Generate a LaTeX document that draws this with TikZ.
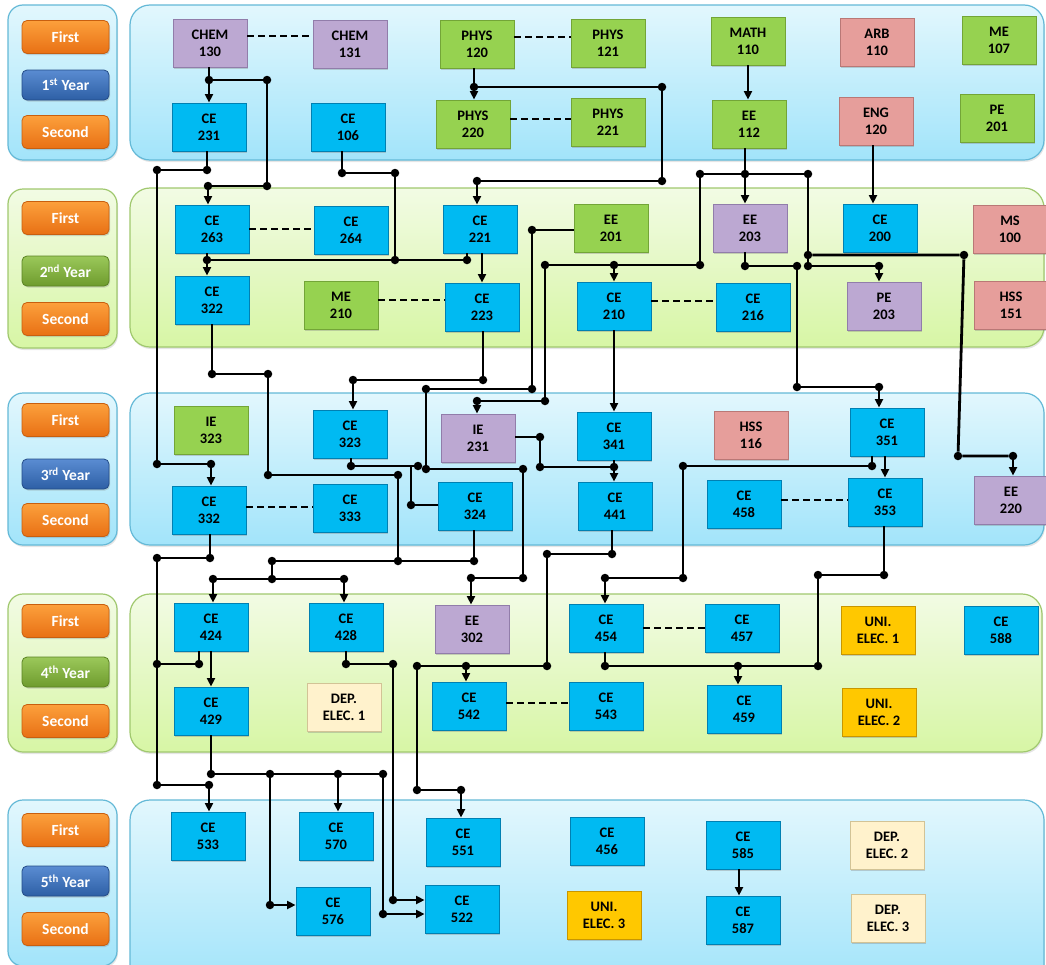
\documentclass[tikz,border=0pt]{standalone}
\usepackage{fontspec}
\setmainfont{Carlito}
\usepackage{tikz}
\usepackage{xcolor}
\usetikzlibrary{arrows.meta,shadows}

\definecolor{ceFill}{RGB}{0,186,242}
\definecolor{ceEdge}{RGB}{0,128,178}
\definecolor{sciFill}{RGB}{150,210,80}
\definecolor{sciEdge}{RGB}{115,165,55}
\definecolor{purFill}{RGB}{188,168,210}
\definecolor{purEdge}{RGB}{145,125,170}
\definecolor{humFill}{RGB}{230,158,155}
\definecolor{humEdge}{RGB}{185,120,118}
\definecolor{uniFill}{RGB}{255,200,0}
\definecolor{uniEdge}{RGB}{200,150,0}
\definecolor{depFill}{RGB}{255,242,204}
\definecolor{depEdge}{RGB}{210,195,150}
\definecolor{bandBlueTop}{RGB}{226,247,253}
\definecolor{bandBlueBot}{RGB}{162,228,250}
\definecolor{bandBlueEdge}{RGB}{100,185,215}
\definecolor{bandGreenTop}{RGB}{242,251,228}
\definecolor{bandGreenBot}{RGB}{215,246,165}
\definecolor{bandGreenEdge}{RGB}{160,200,110}
\definecolor{tagOrangeTop}{RGB}{252,160,60}
\definecolor{tagOrangeBot}{RGB}{232,112,20}
\definecolor{tagOrangeEdge}{RGB}{200,95,15}
\definecolor{tagBlueTop}{RGB}{90,140,210}
\definecolor{tagBlueBot}{RGB}{45,95,165}
\definecolor{tagBlueEdge}{RGB}{35,75,135}
\definecolor{tagGreenTop}{RGB}{155,200,90}
\definecolor{tagGreenBot}{RGB}{110,155,45}
\definecolor{tagGreenEdge}{RGB}{90,130,35}

\begin{document}
\begin{tikzpicture}[x=1pt, y=-1pt,
	course/.style={minimum width=74pt, minimum height=48pt, inner sep=0pt, align=center, line width=0.9pt, font=\bfseries\fontsize{14.5}{17}\selectfont, drop shadow={shadow xshift=1.2pt, shadow yshift=-1.5pt, opacity=0.35}},
	cebox/.style={course, fill=ceFill, draw=ceEdge},
	greenbox/.style={course, fill=sciFill, draw=sciEdge},
	purplebox/.style={course, fill=purFill, draw=purEdge},
	pinkbox/.style={course, fill=humFill, draw=humEdge},
	unibox/.style={course, fill=uniFill, draw=uniEdge},
	depbox/.style={course, fill=depFill, draw=depEdge},
	tagbase/.style={minimum width=87pt, minimum height=33pt, rounded corners=5pt, line width=0.8pt, text=white, font=\bfseries\fontsize{15.5}{18}\selectfont, drop shadow={shadow xshift=1pt, shadow yshift=-1.5pt, opacity=0.3}},
	termtag/.style={tagbase, top color=tagOrangeTop, bottom color=tagOrangeBot, draw=tagOrangeEdge},
	yeartagblue/.style={tagbase, minimum height=30pt, top color=tagBlueTop, bottom color=tagBlueBot, draw=tagBlueEdge},
	yeartaggreen/.style={tagbase, minimum height=30pt, top color=tagGreenTop, bottom color=tagGreenBot, draw=tagGreenEdge},
	blueband/.style={rounded corners=20pt, top color=bandBlueTop, bottom color=bandBlueBot, draw=bandBlueEdge, line width=1.2pt, drop shadow={shadow xshift=1pt, shadow yshift=-2pt, opacity=0.2}},
	greenband/.style={rounded corners=20pt, top color=bandGreenTop, bottom color=bandGreenBot, draw=bandGreenEdge, line width=1.2pt, drop shadow={shadow xshift=1pt, shadow yshift=-2pt, opacity=0.2}},
	jdot/.style={circle, fill=black, inner sep=0pt, minimum size=8.5pt},
	wire/.style={line width=2.8pt},
	arr/.style={wire, -{Triangle[length=8.5pt, width=8pt]}},
	pairline/.style={line width=2.8pt, dash pattern=on 7pt off 4pt}]
	\useasboundingbox (0,0) rectangle (1046,964);
	\clip (0,0) rectangle (1046,964);
	\fill[white] (0,0) rectangle (1046,964);

	\draw[blueband, rounded corners=15pt] (8,5) rectangle (117,160);
	\draw[blueband] (130,5) rectangle (1044,160);
	\draw[greenband, rounded corners=15pt] (8,189) rectangle (117,348);
	\draw[greenband] (130,188) rectangle (1044,347);
	\draw[blueband, rounded corners=15pt] (8,393) rectangle (117,545);
	\draw[blueband] (130,393) rectangle (1044,545);
	\draw[greenband, rounded corners=15pt] (8,594) rectangle (117,752);
	\draw[greenband] (130,594) rectangle (1042,752);
	\draw[blueband, rounded corners=15pt] (8,800) rectangle (117,966);
	\draw[blueband] (130,800) rectangle (1044,985);

	\node[termtag] (first1) at (65.5,37) {First};
	\node[yeartagblue] (year1) at (65.5,85) {1\textsuperscript{st} Year};
	\node[termtag] (second1) at (65.5,132) {Second};
	\node[termtag] (first2) at (65.5,218) {First};
	\node[yeartaggreen] (year2) at (65.5,271) {2\textsuperscript{nd} Year};
	\node[termtag] (second2) at (65.5,319) {Second};
	\node[termtag] (first3) at (65.5,420) {First};
	\node[yeartagblue] (year3) at (65.5,474) {3\textsuperscript{rd} Year};
	\node[termtag] (second3) at (65.5,520) {Second};
	\node[termtag] (first4) at (65.5,621) {First};
	\node[yeartaggreen] (year4) at (65.5,672) {4\textsuperscript{th} Year};
	\node[termtag] (second4) at (65.5,721) {Second};
	\node[termtag] (first5) at (65.5,830) {First};
	\node[yeartagblue] (year5) at (65.5,881) {5\textsuperscript{th} Year};
	\node[termtag] (second5) at (65.5,929) {Second};

	\node[purplebox] (chem130) at (210,43) {CHEM\\130};
	\node[purplebox] (chem131) at (350,44) {CHEM\\131};
	\node[greenbox] (phys120) at (477,44) {PHYS\\120};
	\node[greenbox] (phys121) at (608,43) {PHYS\\121};
	\node[greenbox] (math110) at (748,41) {MATH\\110};
	\node[pinkbox] (arb110) at (877,42) {ARB\\110};
	\node[greenbox] (me107) at (999,40) {ME\\107};
	\node[cebox] (ce231) at (209,127) {CE\\231};
	\node[cebox] (ce106) at (348,127) {CE\\106};
	\node[greenbox] (phys220) at (473,124) {PHYS\\220};
	\node[greenbox] (phys221) at (608,122) {PHYS\\221};
	\node[greenbox] (ee112) at (749,124) {EE\\112};
	\node[pinkbox] (eng120) at (876,121) {ENG\\120};
	\node[greenbox] (pe201) at (997,118) {PE\\201};

	\node[cebox] (ce263) at (212,229) {CE\\263};
	\node[cebox] (ce264) at (351,230) {CE\\264};
	\node[cebox] (ce221) at (480,229) {CE\\221};
	\node[greenbox] (ee201) at (611,228) {EE\\201};
	\node[purplebox] (ee203) at (750,228) {EE\\203};
	\node[cebox] (ce200) at (880,228) {CE\\200};
	\node[pinkbox] (ms100) at (1010,229) {MS\\100};
	\node[cebox] (ce322) at (212,300) {CE\\322};
	\node[greenbox] (me210) at (341,305) {ME\\210};
	\node[cebox] (ce223) at (482,307) {CE\\223};
	\node[cebox] (ce210) at (614,306) {CE\\210};
	\node[cebox] (ce216) at (753,307) {CE\\216};
	\node[purplebox] (pe203) at (884,306) {PE\\203};
	\node[pinkbox] (hss151) at (1011,305) {HSS\\151};

	\node[greenbox] (ie323) at (211,430) {IE\\323};
	\node[cebox] (ce323) at (350,434) {CE\\323};
	\node[purplebox] (ie231) at (478,438) {IE\\231};
	\node[cebox] (ce341) at (614,436) {CE\\341};
	\node[pinkbox] (hss116) at (751,435) {HSS\\116};
	\node[cebox] (ce351) at (887,432) {CE\\351};
	\node[cebox] (ce332) at (209,510) {CE\\332};
	\node[cebox] (ce333) at (350,508) {CE\\333};
	\node[cebox] (ce324) at (475,506) {CE\\324};
	\node[cebox] (ce441) at (615,506) {CE\\441};
	\node[cebox] (ce458) at (744,504) {CE\\458};
	\node[cebox] (ce353) at (885,502) {CE\\353};
	\node[purplebox] (ee220) at (1011,500) {EE\\220};

	\node[cebox] (ce424) at (211,627) {CE\\424};
	\node[cebox] (ce428) at (346,627) {CE\\428};
	\node[purplebox] (ee302) at (472,629) {EE\\302};
	\node[cebox] (ce454) at (606,628) {CE\\454};
	\node[cebox] (ce457) at (742,628) {CE\\457};
	\node[unibox] (uni1) at (878,630) {UNI.\\ELEC. 1};
	\node[cebox] (ce588) at (1001,630) {CE\\588};
	\node[cebox] (ce429) at (211,711) {CE\\429};
	\node[depbox] (dep1) at (344,707) {DEP.\\ELEC. 1};
	\node[cebox] (ce542) at (469,706) {CE\\542};
	\node[cebox] (ce543) at (606,706) {CE\\543};
	\node[cebox] (ce459) at (744,709) {CE\\459};
	\node[unibox] (uni2) at (879,712) {UNI.\\ELEC. 2};

	\node[cebox] (ce533) at (208,836) {CE\\533};
	\node[cebox] (ce570) at (336,836) {CE\\570};
	\node[cebox] (ce551) at (463,842) {CE\\551};
	\node[cebox] (ce456) at (607,841) {CE\\456};
	\node[cebox] (ce585) at (743,845) {CE\\585};
	\node[depbox] (dep2) at (887,845) {DEP.\\ELEC. 2};
	\node[cebox] (ce576) at (333,911) {CE\\576};
	\node[cebox] (ce522) at (462,909) {CE\\522};
	\node[unibox] (uni3) at (604,915) {UNI.\\ELEC. 3};
	\node[cebox] (ce587) at (743,920) {CE\\587};
	\node[depbox] (dep3) at (888,918) {DEP.\\ELEC. 3};

	\node[jdot] (a1) at (209,80) {};
	\node[jdot] (a2) at (267,80) {};
	\node[jdot] (a3) at (267,186) {};
	\node[jdot] (a4) at (208,186) {};
	\node[jdot] (b1) at (207,170) {};
	\node[jdot] (b2) at (157,170) {};
	\node[jdot] (b3) at (157,464) {};
	\node[jdot] (b4) at (211,464) {};
	\node[jdot] (c1) at (210,558) {};
	\node[jdot] (c2) at (157,558) {};
	\node[jdot] (c3) at (157,785) {};
	\node[jdot] (c4) at (209,785) {};
	\node[jdot] (c5) at (199,664) {};
	\node[jdot] (c6) at (157,664) {};
	\node[jdot] (d1) at (342,173) {};
	\node[jdot] (d2) at (395,173) {};
	\node[jdot] (d3) at (395,260) {};
	\node[jdot] (d4) at (207,260) {};
	\node[jdot] (d5) at (467,260) {};
	\node[jdot] (e1) at (474,87) {};
	\node[jdot] (e2) at (662,87) {};
	\node[jdot] (e3) at (662,181) {};
	\node[jdot] (e4) at (477,181) {};
	\node[jdot] (f1) at (745,174) {};
	\node[jdot] (f2) at (700,174) {};
	\node[jdot] (f3) at (808,174) {};
	\node[jdot] (f4) at (700,265) {};
	\node[jdot] (f5) at (545,265) {};
	\node[jdot] (f6) at (614,265) {};
	\node[jdot] (f7) at (545,401) {};
	\node[jdot] (f8) at (477,401) {};
	\node[jdot] (f9) at (808,255) {};
	\node[jdot] (f10) at (808,266) {};
	\node[jdot] (f11) at (964,255) {};
	\node[jdot] (f12) at (958,456) {};
	\node[jdot] (f13) at (1013,456) {};
	\node[jdot] (f14) at (879,266) {};
	\node[jdot] (g1) at (532,230) {};
	\node[jdot] (g2) at (532,389) {};
	\node[jdot] (g3) at (426,389) {};
	\node[jdot] (g4) at (426,469) {};
	\node[jdot] (g5) at (523,469) {};
	\node[jdot] (g6) at (523,578) {};
	\node[jdot] (g7) at (471,578) {};
	\node[jdot] (h1) at (351,466) {};
	\node[jdot] (h2) at (418,466) {};
	\node[jdot] (h4) at (411,505) {};
	\node[jdot] (i1) at (212,374) {};
	\node[jdot] (i2) at (268,374) {};
	\node[jdot] (i3) at (268,475) {};
	\node[jdot] (i4) at (398,475) {};
	\node[jdot] (i5) at (398,561) {};
	\node[jdot] (i6) at (272,561) {};
	\node[jdot] (i7) at (474,561) {};
	\node[jdot] (i8) at (272,579) {};
	\node[jdot] (i9) at (213,579) {};
	\node[jdot] (i10) at (344,579) {};
	\node[jdot] (j1) at (483,380) {};
	\node[jdot] (j2) at (353,380) {};
	\node[jdot] (k1) at (540,437) {};
	\node[jdot] (k2) at (540,467) {};
	\node[jdot] (k3) at (614,467) {};
	\node[jdot] (l1) at (612,554) {};
	\node[jdot] (l2) at (547,554) {};
	\node[jdot] (l3) at (547,666) {};
	\node[jdot] (l4) at (417,666) {};
	\node[jdot] (l5) at (466,666) {};
	\node[jdot] (l6) at (417,790) {};
	\node[jdot] (l7) at (461,790) {};
	\node[jdot] (m1) at (872,466) {};
	\node[jdot] (m2) at (683,466) {};
	\node[jdot] (m3) at (683,578) {};
	\node[jdot] (m4) at (605,578) {};
	\node[jdot] (n1) at (884,575) {};
	\node[jdot] (n2) at (818,575) {};
	\node[jdot] (n3) at (818,666) {};
	\node[jdot] (n4) at (605,666) {};
	\node[jdot] (n5) at (738,666) {};
	\node[jdot] (o1) at (745,266) {};
	\node[jdot] (o2) at (797,266) {};
	\node[jdot] (o3) at (797,387) {};
	\node[jdot] (o4) at (879,387) {};
	\node[jdot] (p1) at (346,664) {};
	\node[jdot] (p2) at (393,664) {};
	\node[jdot] (p3) at (393,900) {};
	\node[jdot] (q1) at (211,774) {};
	\node[jdot] (q2) at (270,774) {};
	\node[jdot] (q3) at (338,774) {};
	\node[jdot] (q4) at (383,774) {};
	\node[jdot] (q5) at (270,905) {};
	\node[jdot] (q6) at (383,914) {};

	\draw[pairline] ([yshift=7pt]chem130.east) -- ([yshift=7pt]chem130.east -| chem131.west);
	\draw[pairline] ([yshift=7pt]phys120.east) -- ([yshift=7pt]phys120.east -| phys121.west);
	\draw[pairline] ([yshift=5pt]phys220.east) -- ([yshift=5pt]phys220.east -| phys221.west);
	\draw[pairline] (ce263.east) -- (ce263.east -| ce264.west);
	\draw[pairline] ([yshift=5pt]me210.east) -- ([yshift=5pt]me210.east -| ce223.west);
	\draw[pairline] ([yshift=5pt]ce210.east) -- ([yshift=5pt]ce210.east -| ce216.west);
	\draw[pairline] ([yshift=3pt]ce332.east) -- ([yshift=3pt]ce332.east -| ce333.west);
	\draw[pairline] ([yshift=4pt]ce458.east) -- ([yshift=4pt]ce458.east -| ce353.west);
	\draw[pairline] (ce454.east) -- (ce454.east -| ce457.west);
	\draw[pairline] ([yshift=3pt]ce542.east) -- ([yshift=3pt]ce542.east -| ce543.west);

	\draw[wire] (a1 |- chem130.south) -- (a1) -- (a2) -- (a3) -- (a4);
	\draw[arr] (a1) -- (a1 |- ce231.north);
	\draw[arr] (a4) -- (a4 |- ce263.north);
	\draw[wire] (b1 |- ce231.south) -- (b1) -- (b2) -- (b3) -- (b4);
	\draw[arr] (b4) -- (b4 |- ce332.north);
	\draw[wire] (c1 |- ce332.south) -- (c1) -- (c2) -- (c3) -- (c4);
	\draw[arr] (c4) -- (c4 |- ce533.north);
	\draw[wire] (c5 |- ce424.south) -- (c5) -- (c6);
	\draw[wire] (d1 |- ce106.south) -- (d1) -- (d2) -- (d3);
	\draw[wire] (d4 |- ce263.south) -- (d4) -- (d5) -- (d5 |- ce221.south);
	\draw[arr] (d4) -- (d4 |- ce322.north);
	\draw[arr] (ce221.south -| ce223.north) -- (ce223.north);
	\draw[wire] (e1 |- phys120.south) -- (e1) -- (e2) -- (e3) -- (e4);
	\draw[arr] (e1) -- (e1 |- phys220.north);
	\draw[arr] (e4) -- (e4 |- ce221.north);
	\draw[arr] (math110.south) -- (math110.south |- ee112.north);
	\draw[arr] ([xshift=-3pt]eng120.south) -- ([xshift=-3pt]eng120.south |- ce200.north);
	\draw[wire] (f1 |- ee112.south) -- (f1);
	\draw[wire] (f2) -- (f3) -- (f10);
	\draw[arr] (f1) -- (f1 |- ee203.north);
	\draw[wire] (f2) -- (f4) -- (f5) -- (f7) -- (f8);
	\draw[arr] (f6) -- (f6 |- ce210.north);
	\draw[arr] (f8) -- (f8 |- ie231.north);
	\draw[wire] (f9) -- (f11) -- (f12) -- (f13);
	\draw[arr] (f13) -- (f13 |- ee220.north);
	\draw[wire] (f10) -- (f14);
	\draw[arr] (f14) -- (f14 |- pe203.north);
	\draw[wire] (g1 -| ee201.west) -- (g1) -- (g2) -- (g3) -- (g4) -- (g5) -- (g6) -- (g7);
	\draw[arr] (g7) -- (g7 |- ee302.north);
	\draw[wire] (h1 |- ce323.south) -- (h1) -- (h2);
	\draw[wire] (h4 |- h1) -- (h4) -- (h4 -| ce324.west);
	\draw[wire] (i1 |- ce322.south) -- (i1) -- (i2) -- (i3) -- (i4) -- (i5);
	\draw[wire] (i6) -- (i7) -- (i7 |- ce324.south);
	\draw[wire] (i6) -- (i8);
	\draw[wire] (i9) -- (i10);
	\draw[arr] (i9) -- (i9 |- ce424.north);
	\draw[arr] (i10) -- (i10 |- ce428.north);
	\draw[wire] (j1 |- ce223.south) -- (j1) -- (j2);
	\draw[arr] (j2) -- (j2 |- ce323.north);
	\draw[arr] (ce210.south) -- (ce210.south |- ce341.north);
	\draw[wire] (k1 -| ie231.east) -- (k1) -- (k2) -- (k3) -- (k3 |- ce341.south);
	\draw[arr] (k3) -- (k3 |- ce441.north);
	\draw[wire] (l1 |- ce441.south) -- (l1) -- (l2) -- (l3) -- (l4) -- (l6) -- (l7);
	\draw[arr] (l5) -- (l5 |- ce542.north);
	\draw[arr] (l7) -- (l7 |- ce551.north);
	\draw[wire] (m1 |- ce351.south) -- (m1) -- (m2) -- (m3) -- (m4);
	\draw[arr] (m4) -- (m4 |- ce454.north);
	\draw[arr] (ce351.south -| ce353.north) -- (ce353.north);
	\draw[wire] (n1 |- ce353.south) -- (n1) -- (n2) -- (n3) -- (n4) -- (n4 |- ce454.south);
	\draw[arr] (n5) -- (n5 |- ce459.north);
	\draw[wire] (o1 |- ee203.south) -- (o1) -- (o2) -- (o3) -- (o4);
	\draw[arr] (o4) -- (o4 |- ce351.north);
	\draw[arr] (ce424.south) -- (ce429.north);
	\draw[wire] (p1 |- ce428.south) -- (p1) -- (p2) -- (p3);
	\draw[arr] (p3) -- (p3 -| ce522.west);
	\draw[wire] (q1 |- ce429.south) -- (q1) -- (q4) -- (q6);
	\draw[arr] (q3) -- (q3 |- ce570.north);
	\draw[wire] (q2) -- (q5);
	\draw[arr] (q5) -- (q5 -| ce576.west);
	\draw[arr] (q6) -- (q6 -| ce522.west);
	\draw[arr] ([xshift=-4pt]ce585.south) -- ([xshift=-4pt]ce587.north);
\end{tikzpicture}
\end{document}
